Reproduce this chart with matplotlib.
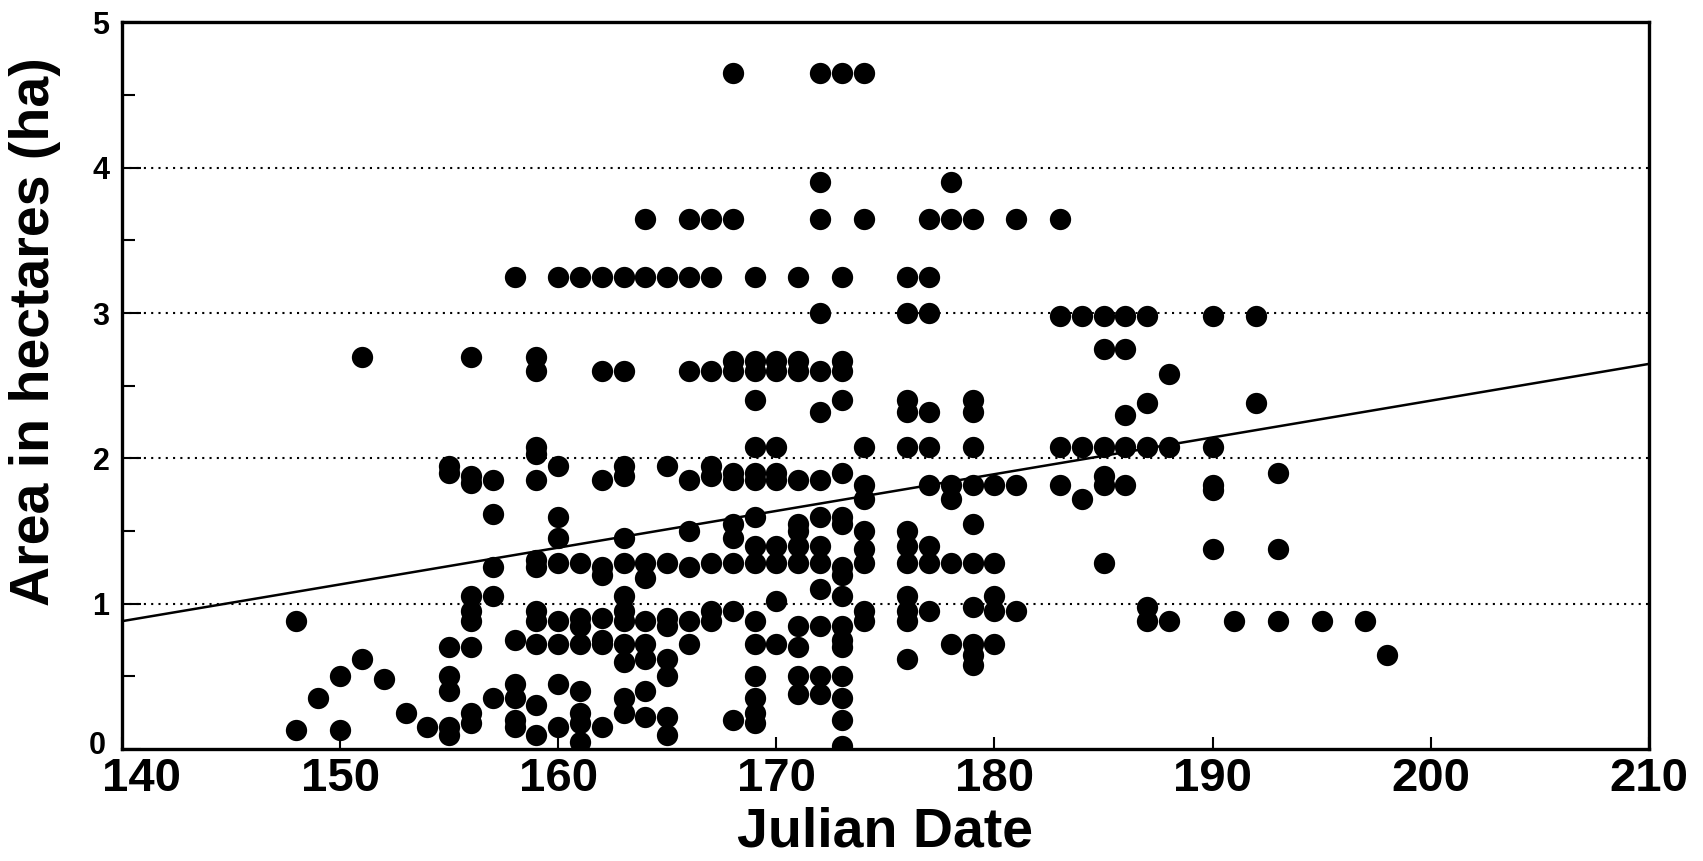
import numpy as np
import matplotlib.pyplot as plt
import matplotlib.transforms as mtransforms

# Julian dates and the areas (ha) recorded on each of them
days = [148, 149, 150, 151, 152, 153, 154, 155, 156, 157, 158, 159, 160,
        161, 162, 163, 164, 165, 166, 167, 168, 169, 170, 171, 172, 173,
        174, 176, 177, 178, 179, 180, 181, 183, 184, 185, 186, 187, 188,
        190, 191, 192, 193, 195, 197, 198]
areas = [
    [0.88, 0.13],
    [0.35],
    [0.50, 0.13],
    [2.70, 0.62],
    [0.48],
    [0.25],
    [0.15],
    [1.95, 1.90, 0.70, 0.50, 0.40, 0.15, 0.10],
    [2.70, 1.88, 1.83, 1.05, 0.95, 0.88, 0.70, 0.25, 0.18],
    [1.85, 1.62, 1.25, 1.05, 0.35],
    [3.25, 0.75, 0.45, 0.35, 0.20, 0.15],
    [2.70, 2.60, 2.08, 2.03, 1.85, 1.30, 1.25, 0.95, 0.88, 0.72, 0.30, 0.10],
    [3.25, 1.95, 1.60, 1.45, 1.28, 0.88, 0.72, 0.45, 0.15],
    [3.25, 1.28, 0.90, 0.85, 0.72, 0.40, 0.25, 0.18, 0.05],
    [3.25, 2.60, 1.85, 1.25, 1.20, 0.90, 0.75, 0.72, 0.15],
    [3.25, 2.60, 1.95, 1.88, 1.45, 1.28, 1.05, 0.95, 0.88, 0.72, 0.60,
     0.35, 0.25],
    [3.65, 3.25, 1.28, 1.18, 0.88, 0.72, 0.62, 0.40, 0.22],
    [3.25, 1.95, 1.28, 0.90, 0.85, 0.62, 0.50, 0.22, 0.10],
    [3.65, 3.25, 2.60, 1.85, 1.50, 1.25, 0.88, 0.72],
    [3.65, 3.25, 2.60, 1.95, 1.88, 1.28, 0.95, 0.88],
    [4.65, 3.65, 2.67, 2.60, 1.90, 1.85, 1.55, 1.45, 1.28, 0.95, 0.20],
    [3.25, 2.67, 2.60, 2.40, 2.08, 1.90, 1.85, 1.60, 1.40, 1.28, 0.88,
     0.72, 0.50, 0.35, 0.25, 0.18],
    [2.67, 2.60, 2.08, 1.90, 1.85, 1.40, 1.28, 1.02, 0.72],
    [3.25, 2.67, 2.60, 1.85, 1.55, 1.50, 1.40, 1.28, 0.85, 0.70, 0.50, 0.38],
    [4.65, 3.90, 3.65, 3.00, 2.60, 2.32, 1.85, 1.60, 1.40, 1.28, 1.10,
     0.85, 0.50, 0.38],
    [4.65, 3.25, 2.67, 2.60, 2.40, 1.90, 1.60, 1.55, 1.25, 1.20, 1.05,
     0.85, 0.75, 0.70, 0.50, 0.35, 0.20, 0.02],
    [4.65, 3.65, 2.08, 1.82, 1.72, 1.50, 1.38, 1.28, 0.95, 0.88],
    [3.25, 3.00, 2.40, 2.32, 2.08, 1.50, 1.40, 1.28, 1.05, 0.95, 0.88, 0.62],
    [3.65, 3.25, 3.00, 2.32, 2.08, 1.82, 1.40, 1.28, 0.95],
    [3.90, 3.65, 1.82, 1.72, 1.28, 0.72],
    [3.65, 2.40, 2.32, 2.08, 1.82, 1.55, 1.28, 0.98, 0.72, 0.65, 0.58],
    [1.82, 1.28, 1.05, 0.95, 0.72],
    [3.65, 1.82, 0.95],
    [3.65, 2.98, 2.08, 1.82],
    [2.98, 2.08, 1.72],
    [2.98, 2.75, 2.08, 1.88, 1.82, 1.28],
    [2.98, 2.75, 2.30, 2.08, 1.82],
    [2.98, 2.38, 2.08, 0.98, 0.88],
    [2.58, 2.08, 0.88],
    [2.98, 2.08, 1.82, 1.78, 1.38],
    [0.88],
    [2.98, 2.38],
    [1.90, 1.38, 0.88],
    [0.88],
    [0.88],
    [0.65],
]

# regression line end points
fit_x = [140, 210]
fit_y = [0.88, 2.65]

x_ticks = [140, 150, 160, 170, 180, 190, 200, 210]
y_ticks = [0, 1, 2, 3, 4, 5]

x = np.concatenate([[d] * len(a) for d, a in zip(days, areas)])
y = np.concatenate(areas)

font = 'Liberation Sans'
fig = plt.figure(figsize=(17.03, 8.61), dpi=100)
ax = fig.add_axes([0.0716, 0.130, 0.8966, 0.844])

ax.scatter(x, y, s=235, color='black', linewidths=0, zorder=3)
ax.plot(fit_x, fit_y, color='black', linewidth=1.8, zorder=2)

ax.set_xlim(140, 210)
ax.set_ylim(0, 5)
ax.set_xticks(x_ticks)
ax.set_yticks(y_ticks)
ax.set_yticks(np.arange(0.5, 5, 1.0), minor=True)

# dotted horizontal grid at 1-4
for yv in y_ticks[1:-1]:
    ax.axhline(yv, color='black', linewidth=1.5, linestyle=(0, (1, 2.5)), zorder=1)

for s in ax.spines.values():
    s.set_linewidth(2.4)

ax.tick_params(axis='x', direction='in', length=9, width=1.5, pad=6)
ax.tick_params(axis='y', which='major', direction='in', length=14, width=1.5, pad=9)
ax.tick_params(axis='y', which='minor', direction='in', length=9, width=1.5)

for lab in ax.get_xticklabels():
    lab.set_fontfamily(font)
    lab.set_fontweight('bold')
    lab.set_fontsize(34)
for lab in ax.get_yticklabels():
    lab.set_fontfamily(font)
    lab.set_fontweight('bold')
    lab.set_fontsize(22)

# the first date label sits a little to the right of its tick,
# and the y "0" sits a little above the corner
first = ax.get_xticklabels()[0]
first.set_transform(first.get_transform() +
                    mtransforms.ScaledTranslation(0.2, 0, fig.dpi_scale_trans))
zero = ax.get_yticklabels()[0]
zero.set_transform(zero.get_transform() +
                   mtransforms.ScaledTranslation(-0.04, 0.07, fig.dpi_scale_trans))

ax.set_xlabel('Julian Date', fontfamily=font, fontweight='bold', fontsize=40, labelpad=4)
ax.set_ylabel('Area in hectares (ha)', fontfamily=font, fontweight='bold', fontsize=40)
ax.yaxis.set_label_coords(-0.04, 0.575)

fig.savefig('out.png', dpi=100)
